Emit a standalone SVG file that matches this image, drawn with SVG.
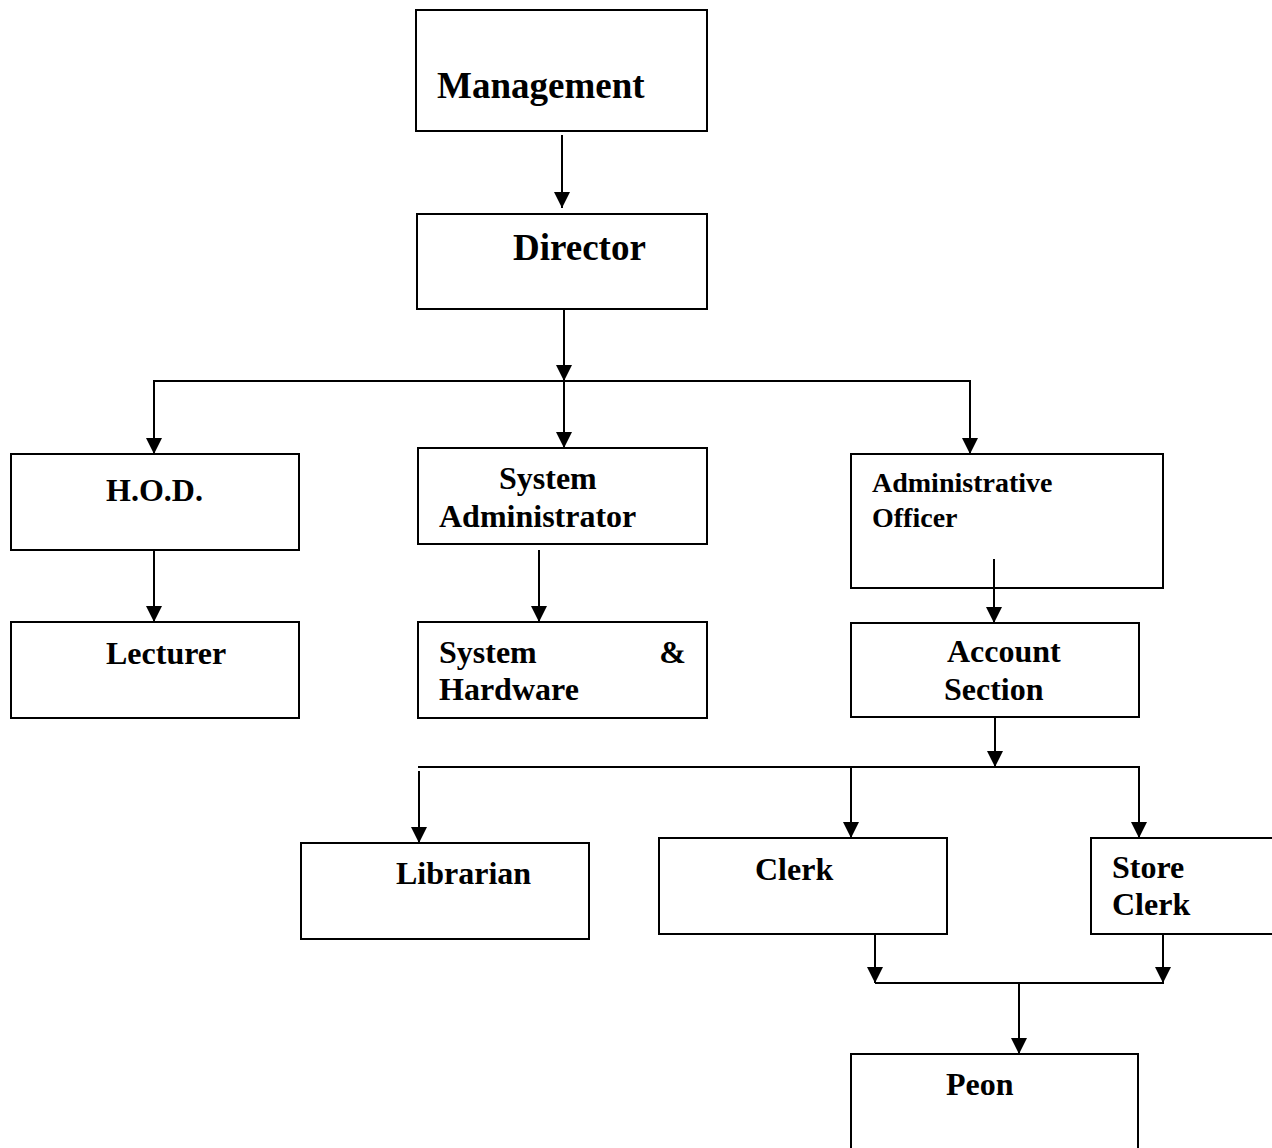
<svg xmlns="http://www.w3.org/2000/svg" width="1272" height="1148" viewBox="0 0 1272 1148">
<defs>
<style>
.box{fill:#fff;stroke:#000;stroke-width:2}
.t{font-family:"Liberation Serif","Times New Roman",serif;font-weight:bold;font-size:32px;fill:#000}
.big{font-size:37px}
.sm{font-size:28px}
.c line{stroke:#000;stroke-width:2}
.c line.a{marker-end:url(#arr)}
</style>
<marker id="arr" markerUnits="userSpaceOnUse" markerWidth="16" markerHeight="16" refX="8" refY="16" orient="0" viewBox="0 0 16 16">
<path d="M0,0 L16,0 L8,16 z" fill="#000"/>
</marker>
</defs>
<rect width="1272" height="1148" fill="#fff"/>
<g id="management"><rect class="box" x="416" y="10" width="291" height="121"/><text class="t big" x="437" y="98">Management</text></g>
<g id="director"><rect class="box" x="417" y="214" width="290" height="95"/><text class="t big" x="513" y="260">Director</text></g>
<g id="hod"><rect class="box" x="11" y="454" width="288" height="96"/><text class="t" x="106" y="501">H.O.D.</text></g>
<g id="sysadmin"><rect class="box" x="418" y="448" width="289" height="96"/><text class="t" x="499" y="489">System</text><text class="t" x="439" y="527">Administrator</text></g>
<g id="adminofficer"><rect class="box" x="851" y="454" width="312" height="134"/><text class="t sm" x="872" y="492">Administrative</text><text class="t sm" x="872" y="527">Officer</text></g>
<g id="lecturer"><rect class="box" x="11" y="622" width="288" height="96"/><text class="t" x="106" y="664">Lecturer</text></g>
<g id="syshw"><rect class="box" x="418" y="622" width="289" height="96"/><text class="t" x="439" y="663">System</text><text class="t" x="686" y="663" text-anchor="end">&amp;</text><text class="t" x="439" y="700">Hardware</text></g>
<g id="account"><rect class="box" x="851" y="623" width="288" height="94"/><text class="t" x="947" y="662">Account</text><text class="t" x="944" y="700">Section</text></g>
<g id="librarian"><rect class="box" x="301" y="843" width="288" height="96"/><text class="t" x="396" y="884">Librarian</text></g>
<g id="clerk"><rect class="box" x="659" y="838" width="288" height="96"/><text class="t" x="755" y="880">Clerk</text></g>
<g id="storeclerk"><rect class="box" x="1091" y="838" width="200" height="96"/><text class="t" x="1112" y="878">Store</text><text class="t" x="1112" y="915">Clerk</text></g>
<g id="peon"><rect class="box" x="851" y="1054" width="287" height="120"/><text class="t" x="946" y="1095">Peon</text></g>
<g id="connectors" class="c">
<line class="a" x1="562" y1="135" x2="562" y2="208"/>
<line class="a" x1="564" y1="309" x2="564" y2="381"/>
<line x1="153" y1="381" x2="971" y2="381"/>
<line class="a" x1="564" y1="381" x2="564" y2="448"/>
<line class="a" x1="154" y1="380" x2="154" y2="454"/>
<line class="a" x1="970" y1="380" x2="970" y2="454"/>
<line class="a" x1="154" y1="550" x2="154" y2="622"/>
<line class="a" x1="539" y1="550" x2="539" y2="622"/>
<line class="a" x1="994" y1="559" x2="994" y2="623"/>
<line class="a" x1="995" y1="717" x2="995" y2="767"/>
<line x1="418" y1="767" x2="1140" y2="767"/>
<line class="a" x1="419" y1="771" x2="419" y2="843"/>
<line class="a" x1="851" y1="767" x2="851" y2="838"/>
<line class="a" x1="1139" y1="766" x2="1139" y2="838"/>
<line class="a" x1="875" y1="934" x2="875" y2="983"/>
<line class="a" x1="1163" y1="934" x2="1163" y2="983"/>
<line x1="875" y1="983" x2="1164" y2="983"/>
<line class="a" x1="1019" y1="983" x2="1019" y2="1054"/>
</g>
</svg>
